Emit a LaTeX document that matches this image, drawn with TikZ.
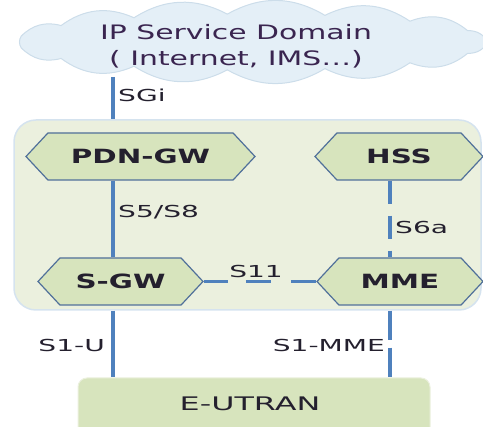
\documentclass[tikz,border=0pt]{standalone}
\usepackage{fontspec}
\setmainfont{DejaVu Sans}
\newfontfamily\cloudfont[FakeStretch=1.5]{DejaVu Sans}
\newfontfamily\hexfont[FakeStretch=1.5]{DejaVu Sans Bold}
\newfontfamily\lblfont[FakeStretch=1.7]{DejaVu Sans}
\usetikzlibrary{shapes.symbols}
\definecolor{cloudfill}{HTML}{E4EFF7}
\definecolor{cloudline}{HTML}{CCDDEA}
\definecolor{contfill}{HTML}{EBF0DE}
\definecolor{contline}{HTML}{D5E3EF}
\definecolor{hexfill}{HTML}{D7E4BD}
\definecolor{hexline}{HTML}{50709A}
\definecolor{linkblue}{HTML}{4F81BD}
\definecolor{txtdark}{HTML}{24202E}
\definecolor{cloudtxt}{HTML}{3A2550}
\tikzset{
  hexnode/.style={signal, signal to=west and east, signal pointer angle=94,
    draw=hexline, line width=1.2pt, fill=hexfill, minimum height=47pt,
    inner sep=0pt, text=txtdark, font=\hexfont\fontsize{19.6}{22}\selectfont},
  link/.style={draw=linkblue, line width=3.5pt},
  ifl/.style={text=txtdark, inner sep=1pt, font=\lblfont\fontsize{16.5}{18}\selectfont},
  cloudpath/.style={fill=cloudfill, draw=cloudline, line width=1pt},
}
\begin{document}
\begin{tikzpicture}[x=1pt,y=-1pt]
\useasboundingbox (0,0) rectangle (483,427);
\clip (0,0) rectangle (483,427);
% cloud outline: puffs along an ellipse
\path[cloudpath] ({252+236*cos(0)},{42+28*sin(0)})
  \foreach \a in {24,48,...,360} { to[bend left=30] ({252+236*cos(\a)},{42+28*sin(\a)}) } -- cycle;
\coordinate (cloudbot) at (113,77);
\node[align=center, text=cloudtxt, font=\cloudfont\fontsize{19.9}{26}\selectfont] (ipsd) at (236,46)
  {IP Service Domain\\( Internet, IMS…)};
% container
\node[draw=contline, line width=1.5pt, fill=contfill, rounded corners=22pt,
  minimum width=467pt, minimum height=190pt] (epc) at (247.5,215) {};
% E-UTRAN
\node[fill=hexfill, draw=contfill, line width=1pt, rounded corners=9pt,
  minimum width=352pt, minimum height=66pt] (eutran) at (254,411) {};
\node[text=txtdark, font=\lblfont\fontsize{18.7}{20}\selectfont] (eutranlbl) at (250,404) {E-UTRAN};
% coordinates for link columns
\coordinate (ux) at (113,0);
\coordinate (mx) at (390,0);
% hexagons
\node[hexnode, minimum width=229pt] (pdn) at (140.5,156.5) {PDN-GW};
\node[hexnode, minimum width=168pt] (hss) at (399,156.5) {HSS};
\node[hexnode, minimum width=165pt] (sgw) at (120.5,281.5) {S-GW};
\node[hexnode, minimum width=166pt] (mme) at (400,281.5) {MME};
% links
\draw[link] (cloudbot) -- (ux |- epc.north);
\draw[link] (ux |- pdn.south) -- (ux |- sgw.north);
\draw[link, dash pattern=on 23pt off 12pt] (mx |- hss.south) -- (mx |- mme.north);
\draw[link, line width=3pt, dash pattern=on 24pt off 18pt on 25pt off 20pt on 30pt] (sgw.east) -- (mme.west);
\draw[link] (ux |- epc.south) -- (ux |- eutran.north);
\draw[link, dash pattern=on 29pt off 8pt on 40pt] (mx |- epc.south) -- (mx |- eutran.north);
% labels
\node[ifl, anchor=west] (lsgi) at (117,95) {SGi};
\node[ifl, anchor=west] (ls5) at (117,212) {S5/S8};
\node[ifl, anchor=west] (ls6) at (394,227) {S6a};
\node[ifl] (ls11) at (256,271) {S11};
\node[ifl, anchor=east] (ls1u) at (106,345) {S1-U};
\node[ifl, anchor=east] (ls1m) at (386,345) {S1-MME};
\end{tikzpicture}
\end{document}
